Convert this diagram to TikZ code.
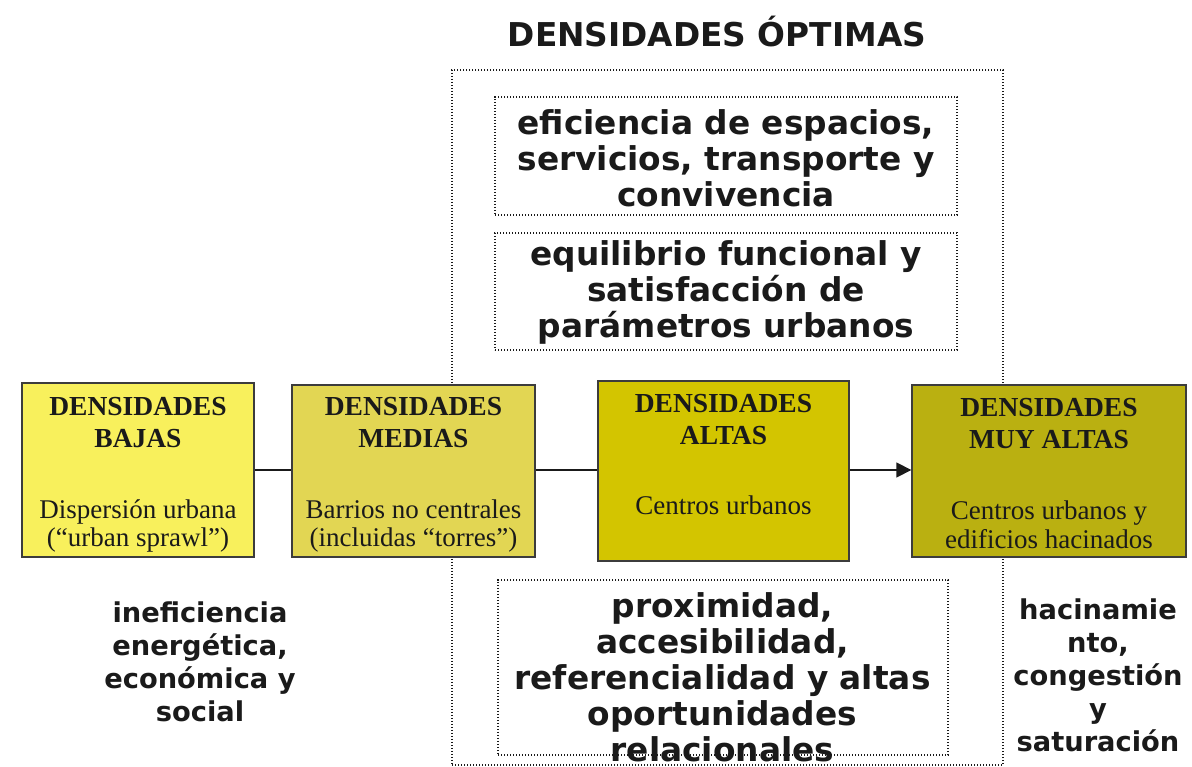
\documentclass[tikz,border=0pt]{standalone}
\usepackage{fontspec}
\setmainfont{Liberation Serif}
\newfontfamily\dvs{DejaVu Sans}
\usetikzlibrary{arrows.meta}
\definecolor{cA}{HTML}{F8F05C}
\definecolor{cB}{HTML}{E2D653}
\definecolor{cC}{HTML}{D3C500}
\definecolor{cD}{HTML}{BAB011}
\definecolor{ink}{HTML}{1A1A1A}
\tikzset{
  dbox/.style={draw=ink!85, line width=1.3pt, rectangle, inner sep=0pt},
  dots/.style={draw=ink, line width=1.1pt, dash pattern=on 1.2pt off 1.8pt},
  ttl/.style={font=\fontsize{27.5}{31.5}\selectfont\bfseries, align=center, inner sep=0pt, text=ink, anchor=north},
  sub/.style={font=\fontsize{27}{28.5}\selectfont, align=center, inner sep=0pt, text=ink, anchor=south},
  big/.style={font=\dvs\fontsize{32.8}{36}\selectfont\bfseries, align=center, inner sep=0pt, text=ink},
  side/.style={font=\dvs\fontsize{27.3}{33}\selectfont\bfseries, align=center, inner sep=0pt, text=ink},
  link/.style={draw=ink, line width=1.3pt}
}
\begin{document}
\begin{tikzpicture}[x=1pt,y=-1pt]
\useasboundingbox[fill=white] (0,0) rectangle (1192,767);
% outer dotted frame
\node[dots, minimum width=551, minimum height=695, inner sep=0pt] (frame) at (727.5,417.5) {};
\node[big] (title) at (717,32) {DENSIDADES ÓPTIMAS};
% inner dotted boxes
\node[dots, minimum width=462, minimum height=118, inner sep=0pt] (e1) at (726,156) {};
\node[big] (t1) at (726,158) {eficiencia de espacios,\\servicios, transporte y\\convivencia};
\node[dots, minimum width=462, minimum height=117, inner sep=0pt] (e2) at (726,291.5) {};
\node[big] (t2) at (726,292) {equilibrio funcional y\\satisfacción de\\parámetros urbanos};
\node[dots, minimum width=450, minimum height=175, inner sep=0pt] (e3) at (723,667.5) {};
\node[big] (t3) at (722.5,677) {proximidad,\\accesibilidad,\\referencialidad y altas\\oportunidades\\relacionales};
% density boxes
\node[dbox, fill=cA, minimum width=232, minimum height=174] (b1) at (138,470) {};
\node[dbox, fill=cB, minimum width=243, minimum height=172] (b2) at (413.5,471) {};
\node[dbox, fill=cC, minimum width=251, minimum height=180] (b3) at (723.5,471) {};
\node[dbox, fill=cD, minimum width=274, minimum height=172] (b4) at (1049,471) {};
\node[ttl] (h1) at ([yshift=-15]b1.north) {DENSIDADES\\BAJAS};
\node[ttl] (h2) at ([yshift=-13]b2.north) {DENSIDADES\\MEDIAS};
\node[ttl] (h3) at ([yshift=-14]b3.north) {DENSIDADES\\ALTAS};
\node[ttl] (h4) at ([yshift=-14]b4.north) {DENSIDADES\\MUY ALTAS};
\node[sub] (s1) at ([yshift=5]b1.south) {Dispersión urbana\\(“urban sprawl”)};
\node[sub] (s2) at ([yshift=5]b2.south) {Barrios no centrales\\(incluidas “torres”)};
\node[sub, anchor=center] (s3) at (723.5,505) {Centros urbanos};
\node[sub] (s4) at ([yshift=9]b4.south) {Centros urbanos y\\edificios hacinados};
% connectors
\draw[link] (b1.east) -- (b1.east -| b2.west);
\draw[link] (b1.east -| b2.east) -- (b1.east -| b3.west);
\draw[link, -{Triangle[length=15pt,width=15pt]}] (b1.east -| b3.east) -- (b1.east -| b4.west);
% side texts
\node[side] (l1) at (200,662) {ineficiencia\\energética,\\económica y\\social};
\node[side] (r1) at (1098,675) {hacinamie\\nto,\\congestión\\y\\saturación};
\end{tikzpicture}
\end{document}
